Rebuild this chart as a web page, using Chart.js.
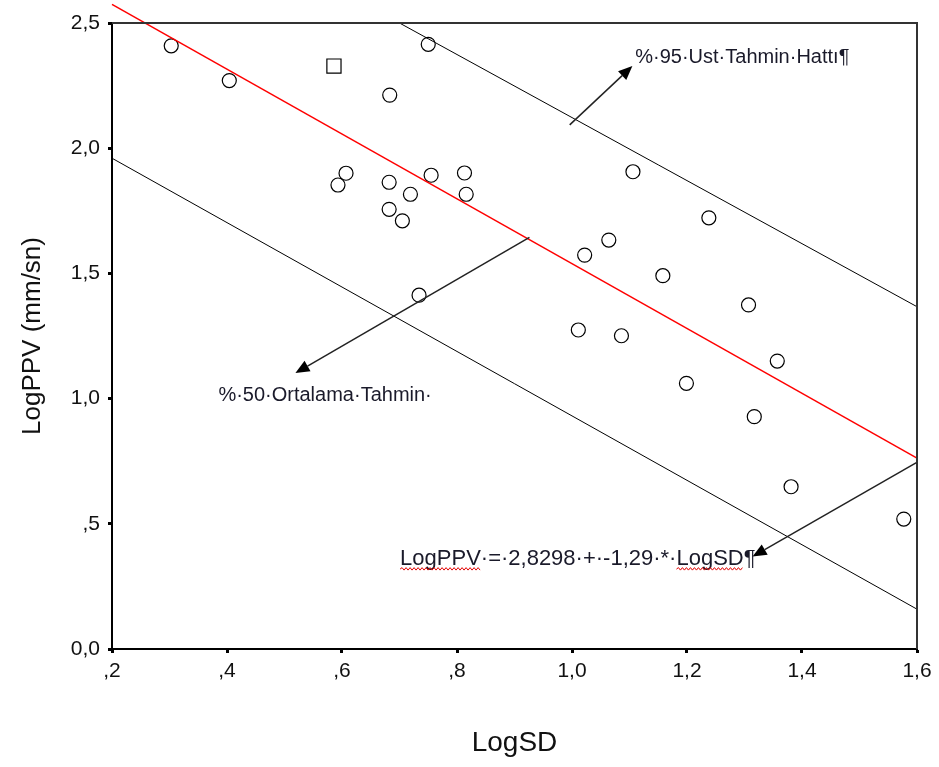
<!DOCTYPE html>
<html>
<head>
<meta charset="utf-8">
<script src="https://cdn.jsdelivr.net/npm/chart.js@4.4.0/dist/chart.umd.min.js"></script>
<style>
  body { margin: 0; background: #fff; }
  canvas { display: block; }
</style>
</head>
<body>
<canvas id="chart" width="939" height="767"></canvas>
<script>
// Observed points (LogSD, LogPPV)
const logSD = [0.303, 0.404, 0.750, 0.683, 0.607, 0.593, 0.682, 0.719, 0.755, 0.813, 0.816, 0.682, 0.705, 0.734,
               1.106, 1.238, 1.064, 1.022, 1.158, 1.307, 1.011, 1.086, 1.357, 1.199, 1.317, 1.381, 1.577];
const logPPV = [2.409, 2.270, 2.415, 2.212, 1.900, 1.853, 1.864, 1.816, 1.892, 1.901, 1.816, 1.756, 1.710, 1.413,
                1.906, 1.722, 1.633, 1.573, 1.491, 1.374, 1.274, 1.251, 1.150, 1.061, 0.928, 0.648, 0.519];
// the one point drawn with a square marker
const squareSD = [0.586];
const squarePPV = [2.328];

// Fit line and prediction lines (end points)
const fitSD = [0.2, 1.6];
const fitPPV = [2.574, 0.762];
const upperSD = [0.7, 1.6];
const upperPPV = [2.5, 1.367];
const lowerSD = [0.2, 1.6];
const lowerPPV = [1.960, 0.159];

// Axis ticks
const xTickValues = [0.2, 0.4, 0.6, 0.8, 1.0, 1.2, 1.4, 1.6];
const xTickLabels = [',2', ',4', ',6', ',8', '1,0', '1,2', '1,4', '1,6'];
const yTickValues = [0, 0.5, 1.0, 1.5, 2.0, 2.5];
const yTickLabels = ['0,0', ',5', '1,0', '1,5', '2,0', '2,5'];

// Annotations (arrows and notes, in data units)
const arrows = [
    { from: [0.996, 2.093], to: [1.105, 2.328] },
    { from: [0.926, 1.644], to: [0.519, 1.102] },
    { from: [1.599, 0.744], to: [1.314, 0.369] }
];
const notes = [
    { text: '%·95·Ust·Tahmin·Hattı¶', at: [1.110, 2.340], size: 20 },
    { text: '%·50·Ortalama·Tahmin·', at: [0.385, 0.990], size: 20 },
    { text: 'LogPPV·=·2,8298·+·-1,29·*·LogSD¶', at: [0.701, 0.335], size: 22, squiggle: ['LogPPV', 'LogSD'] }
];

const pts = (xs, ys) => xs.map((v, i) => ({ x: v, y: ys[i] }));
const FONT = '"Liberation Sans", Arial, sans-serif';

function squiggle(ctx, x0, x1, y) {
    ctx.beginPath();
    let up = true;
    ctx.moveTo(x0, y);
    for (let x = x0 + 2; x <= x1; x += 2) {
        ctx.lineTo(x, up ? y - 1.5 : y + 1);
        up = !up;
    }
    ctx.stroke();
}

const annotPlugin = {
    id: 'annot',
    afterDatasetsDraw(chart) {
        const { ctx, chartArea: a, scales: { x, y } } = chart;
        ctx.save();

        // top and right frame
        ctx.strokeStyle = '#333';
        ctx.lineWidth = 2;
        ctx.beginPath();
        ctx.moveTo(a.left, a.top);
        ctx.lineTo(a.right, a.top);
        ctx.lineTo(a.right, a.bottom);
        ctx.stroke();

        // arrows
        ctx.strokeStyle = '#222';
        ctx.fillStyle = '#000';
        ctx.lineWidth = 1.5;
        arrows.forEach(ar => {
            const x0 = x.getPixelForValue(ar.from[0]), y0 = y.getPixelForValue(ar.from[1]);
            const x1 = x.getPixelForValue(ar.to[0]), y1 = y.getPixelForValue(ar.to[1]);
            const ang = Math.atan2(y1 - y0, x1 - x0);
            const len = 14, half = 6;
            const bx = x1 - len * Math.cos(ang), by = y1 - len * Math.sin(ang);
            ctx.beginPath();
            ctx.moveTo(x0, y0);
            ctx.lineTo(bx, by);
            ctx.stroke();
            ctx.beginPath();
            ctx.moveTo(x1, y1);
            ctx.lineTo(bx + half * Math.sin(ang), by - half * Math.cos(ang));
            ctx.lineTo(bx - half * Math.sin(ang), by + half * Math.cos(ang));
            ctx.closePath();
            ctx.fill();
        });

        // notes
        ctx.textAlign = 'left';
        ctx.textBaseline = 'alphabetic';
        notes.forEach(n => {
            const px = x.getPixelForValue(n.at[0]), py = y.getPixelForValue(n.at[1]);
            ctx.font = n.size + 'px ' + FONT;
            ctx.fillStyle = '#1a1a2a';
            ctx.fillText(n.text, px, py);
            if (n.squiggle) {
                ctx.strokeStyle = '#e00000';
                ctx.lineWidth = 1;
                n.squiggle.forEach(word => {
                    const i = n.text.indexOf(word);
                    const s = px + ctx.measureText(n.text.slice(0, i)).width;
                    const e = s + ctx.measureText(word).width;
                    squiggle(ctx, s, e, py + 4);
                });
            }
        });
        ctx.restore();
    }
};

new Chart(document.getElementById('chart'), {
    type: 'scatter',
    data: {
        datasets: [
            {
                label: 'Regresyon',
                type: 'line',
                data: pts(fitSD, fitPPV),
                borderColor: '#ff0000',
                borderWidth: 1.5,
                pointRadius: 0,
                fill: false,
                clip: false
            },
            {
                label: 'Ust',
                type: 'line',
                data: pts(upperSD, upperPPV),
                borderColor: '#000',
                borderWidth: 1,
                pointRadius: 0,
                fill: false
            },
            {
                label: 'Alt',
                type: 'line',
                data: pts(lowerSD, lowerPPV),
                borderColor: '#000',
                borderWidth: 1,
                pointRadius: 0,
                fill: false
            },
            {
                label: 'LogPPV',
                data: pts(logSD, logPPV),
                pointStyle: 'circle',
                pointRadius: 7,
                pointBorderWidth: 1.2,
                pointBorderColor: '#000',
                pointBackgroundColor: 'rgba(0,0,0,0)'
            },
            {
                label: 'LogPPV2',
                data: pts(squareSD, squarePPV),
                pointStyle: 'rect',
                pointRadius: 10,
                pointBorderWidth: 1.2,
                pointBorderColor: '#000',
                pointBackgroundColor: 'rgba(0,0,0,0)'
            }
        ]
    },
    options: {
        responsive: false,
        animation: false,
        devicePixelRatio: 1,
        layout: { padding: { top: 23, right: 22, left: 0, bottom: 0 } },
        plugins: {
            legend: { display: false },
            tooltip: { enabled: false }
        },
        scales: {
            x: {
                type: 'linear',
                min: 0.2,
                max: 1.6,
                afterFit(scale) { scale.height = 118; },
                afterBuildTicks(scale) { scale.ticks = xTickValues.map(v => ({ value: v })); },
                grid: { drawOnChartArea: false, tickLength: 4, tickWidth: 3, color: '#000' },
                border: { display: true, color: '#000', width: 2 },
                ticks: {
                    padding: 6,
                    color: '#111',
                    font: { family: FONT, size: 21 },
                    callback: (v, i) => xTickLabels[i]
                },
                title: {
                    display: true,
                    text: 'LogSD',
                    color: '#111',
                    font: { family: FONT, size: 28 },
                    padding: { top: 0, bottom: 7 }
                }
            },
            y: {
                type: 'linear',
                min: 0,
                max: 2.5,
                afterFit(scale) { scale.width = 112; },
                afterBuildTicks(scale) { scale.ticks = yTickValues.map(v => ({ value: v })); },
                grid: { drawOnChartArea: false, tickLength: 4, tickWidth: 3, color: '#000' },
                border: { display: true, color: '#000', width: 2 },
                ticks: {
                    padding: 8,
                    color: '#111',
                    font: { family: FONT, size: 21 },
                    callback: (v, i) => yTickLabels[i]
                },
                title: {
                    display: true,
                    text: 'LogPPV (mm/sn)',
                    color: '#111',
                    font: { family: FONT, size: 26 },
                    padding: { top: 17, bottom: 0 }
                }
            }
        }
    },
    plugins: [annotPlugin]
});
</script>
</body>
</html>
